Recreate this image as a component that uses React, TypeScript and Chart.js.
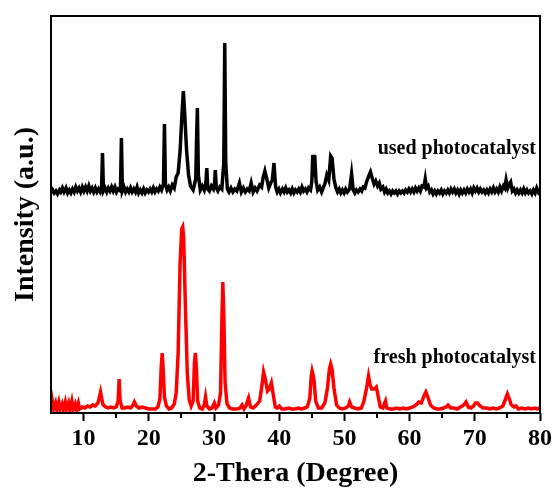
import React, { useEffect, useRef } from "react";
import { Chart, registerables } from "chart.js";

Chart.register(...registerables);

// 2θ (degree) vs. intensity (a.u.); "used" curve is stacked above "fresh"
const usedPoints: [number, number][] = [
  [5.0, 220], [5.25, 223], [5.5, 220], [5.75, 222], [6.0, 219], [6.3, 223], [6.5, 221], [6.75, 225], [7.0, 221],
  [7.3, 225], [7.55, 220], [7.8, 223], [8.05, 220], [8.3, 224], [8.55, 221], [8.8, 226], [9.05, 222],
  [9.3, 225], [9.55, 221], [9.8, 226], [10.05, 222], [10.3, 226], [10.55, 222], [10.8, 227], [11.05, 222],
  [11.3, 225], [11.55, 221], [11.8, 225], [12.05, 221], [12.3, 224], [12.55, 221], [12.75, 224], [12.9, 260],
  [13.05, 222], [13.3, 225], [13.55, 221], [13.8, 225], [14.05, 222], [14.3, 226], [14.55, 222], [14.8, 226],
  [15.05, 221], [15.3, 224], [15.65, 222], [15.8, 275], [15.95, 222], [16.2, 226], [16.45, 221], [16.7, 224],
  [16.95, 221], [17.2, 225], [17.45, 221], [17.7, 224], [17.95, 221], [18.2, 226], [18.45, 220], [18.7, 223],
  [18.95, 220], [19.2, 224], [19.45, 220], [19.7, 223], [19.95, 221], [20.2, 224], [20.45, 221], [20.7, 225],
  [20.95, 221], [21.2, 224], [21.45, 222], [21.7, 226], [21.95, 223], [22.25, 229], [22.4, 289], [22.55, 229],
  [22.8, 223], [23.05, 226], [23.3, 222], [23.6, 228], [23.9, 225], [24.2, 236], [24.5, 240],
  [24.8, 262], [25.1, 300], [25.3, 322], [25.5, 300], [25.8, 262], [26.1, 238], [26.4, 227], [26.8, 223],
  [27.2, 234], [27.35, 280], [27.45, 305], [27.6, 238], [27.9, 223], [28.2, 227], [28.5, 223], [28.75, 230],
  [28.9, 245], [29.05, 224], [29.3, 222], [29.6, 227], [29.9, 224], [30.1, 231], [30.2, 243], [30.35, 225],
  [30.6, 222], [30.9, 226], [31.2, 224], [31.5, 250], [31.65, 370], [31.8, 250], [32.05, 224], [32.3, 221],
  [32.6, 225], [32.9, 221], [33.2, 224], [33.5, 222], [33.9, 230], [34.2, 221], [34.5, 225], [34.8, 221],
  [35.1, 224], [35.4, 222], [35.7, 230], [36.0, 221], [36.3, 225], [36.6, 222], [37.0, 228], [37.3, 226],
  [37.55, 236], [37.8, 242], [38.1, 234], [38.4, 225], [38.7, 230], [38.95, 233], [39.2, 250], [39.45, 226],
  [39.7, 221], [39.95, 224], [40.2, 220], [40.5, 224], [40.75, 221], [41.0, 225], [41.25, 221], [41.5, 223],
  [41.75, 220], [42.0, 224], [42.25, 220], [42.5, 223], [42.75, 221], [43.0, 224], [43.25, 221], [43.5, 226],
  [43.75, 222], [44.0, 224], [44.25, 221], [44.5, 225], [44.8, 223], [45.0, 231], [45.15, 258], [45.3, 250],
  [45.45, 258], [45.65, 232], [45.9, 223], [46.2, 226], [46.5, 221], [46.8, 226], [47.0, 229], [47.3, 238],
  [47.6, 233], [47.9, 257], [48.1, 255], [48.4, 234], [48.7, 225], [48.95, 221], [49.2, 224], [49.45, 220],
  [49.7, 223], [49.95, 220], [50.2, 224], [50.45, 221], [50.8, 224], [51.1, 239], [51.35, 223], [51.6, 220],
  [51.85, 223], [52.1, 221], [52.4, 224], [52.65, 222], [52.9, 226], [53.15, 225], [53.4, 231], [53.8, 238],
  [54.0, 241], [54.3, 234], [54.55, 229], [54.8, 232], [55.1, 227], [55.35, 230], [55.6, 224], [55.9, 226],
  [56.15, 221], [56.4, 224], [56.65, 220], [56.9, 222], [57.15, 219], [57.4, 222], [57.65, 220], [57.9, 222],
  [58.15, 219], [58.4, 222], [58.65, 220], [58.9, 222], [59.15, 220], [59.4, 223], [59.65, 221], [59.9, 224],
  [60.15, 221], [60.4, 224], [60.65, 221], [60.9, 225], [61.15, 222], [61.4, 225], [61.65, 222], [61.9, 227],
  [62.2, 226], [62.4, 234], [62.6, 225], [62.85, 227], [63.1, 221], [63.35, 223], [63.6, 219], [63.85, 222],
  [64.1, 219], [64.35, 222], [64.6, 220], [64.85, 223], [65.1, 219], [65.35, 222], [65.6, 220], [65.85, 223],
  [66.1, 220], [66.35, 224], [66.6, 221], [66.85, 224], [67.1, 220], [67.35, 223], [67.6, 219], [67.85, 223],
  [68.1, 220], [68.35, 223], [68.6, 220], [68.85, 224], [69.1, 221], [69.35, 224], [69.6, 220], [69.85, 225],
  [70.1, 222], [70.35, 225], [70.6, 221], [70.85, 224], [71.1, 221], [71.35, 223], [71.6, 220], [71.85, 223],
  [72.1, 220], [72.35, 224], [72.6, 221], [72.85, 225], [73.1, 221], [73.35, 224], [73.6, 221], [73.85, 226],
  [74.1, 222], [74.4, 227], [74.6, 225], [74.8, 233], [75.05, 225], [75.3, 229], [75.5, 231], [75.75, 222],
  [76.0, 224], [76.25, 220], [76.5, 223], [76.75, 220], [77.0, 223], [77.25, 220], [77.5, 224], [77.75, 220],
  [78.0, 223], [78.25, 220], [78.5, 222], [78.75, 219], [79.0, 223], [79.25, 220], [79.5, 225], [79.75, 221],
  [80.0, 224],
];

const freshPoints: [number, number][] = [
  [5.0, 3], [5.2, 12], [5.4, 4], [5.7, 10], [5.9, 3], [6.2, 11], [6.4, 4], [6.7, 9], [6.9, 3], [7.2, 11],
  [7.4, 4], [7.7, 10], [7.9, 3], [8.2, 12], [8.4, 4], [8.7, 9], [8.9, 3], [9.2, 10], [9.4, 4], [9.8, 6],
  [10.2, 5], [10.6, 7], [11.0, 6], [11.4, 8], [11.8, 7], [12.2, 10], [12.4, 15], [12.6, 21], [12.8, 14],
  [13.0, 8], [13.4, 6], [13.8, 5], [14.2, 6], [14.6, 5], [15.0, 6], [15.3, 12], [15.45, 34], [15.6, 12],
  [15.9, 5], [16.3, 5], [16.8, 6], [17.2, 5], [17.6, 8], [17.8, 11], [18.1, 7], [18.5, 5], [19.0, 6],
  [19.5, 5], [20.0, 4], [20.5, 4], [21.0, 4], [21.4, 6], [21.7, 14], [21.9, 45], [22.05, 60], [22.2, 45],
  [22.4, 16], [22.7, 7], [23.1, 4], [23.5, 5], [23.9, 9], [24.2, 20], [24.5, 60], [24.8, 150], [25.05, 184],
  [25.2, 186], [25.35, 175], [25.6, 110], [25.9, 40], [26.2, 13], [26.5, 7], [26.8, 12], [27.0, 50],
  [27.15, 60], [27.3, 45], [27.5, 12], [27.8, 5], [28.2, 4], [28.5, 8], [28.7, 16], [28.9, 7], [29.3, 4],
  [29.7, 5], [30.05, 10], [30.3, 5], [30.7, 8], [31.0, 20], [31.2, 90], [31.35, 131], [31.5, 100],
  [31.7, 30], [32.0, 9], [32.4, 5], [32.8, 4], [33.2, 4], [33.6, 4], [34.0, 5], [34.3, 8], [34.6, 4],
  [34.9, 7], [35.3, 15], [35.6, 6], [36.0, 5], [36.5, 8], [37.0, 12], [37.3, 25], [37.6, 41], [37.9, 33],
  [38.2, 22], [38.5, 24], [38.8, 30], [39.1, 18], [39.4, 6], [39.7, 5], [40.0, 7], [40.4, 4], [40.9, 4],
  [41.4, 5], [41.9, 4], [42.4, 4], [42.9, 5], [43.4, 4], [43.9, 5], [44.3, 6], [44.7, 15], [44.9, 36],
  [45.05, 42], [45.2, 38], [45.35, 32], [45.6, 12], [46.0, 5], [46.5, 5], [47.0, 10], [47.4, 25], [47.7, 44],
  [47.9, 49], [48.1, 44], [48.4, 25], [48.8, 8], [49.2, 5], [49.7, 4], [50.2, 5], [50.6, 7], [50.8, 11],
  [51.1, 6], [51.6, 5], [52.1, 4], [52.6, 5], [53.0, 12], [53.4, 25], [53.7, 37], [53.95, 28], [54.2, 24],
  [54.6, 24], [54.9, 26], [55.2, 16], [55.5, 6], [55.9, 5], [56.1, 9], [56.3, 12], [56.5, 5], [57.0, 4],
  [57.5, 4], [58.0, 5], [58.5, 4], [59.0, 5], [59.5, 4], [60.0, 5], [60.5, 6], [61.0, 8], [61.4, 11],
  [61.8, 10], [62.2, 17], [62.5, 21], [62.8, 16], [63.2, 8], [63.7, 5], [64.2, 4], [64.7, 4], [65.2, 5],
  [65.6, 6], [65.9, 8], [66.3, 5], [66.8, 5], [67.3, 4], [67.8, 6], [68.3, 8], [68.65, 11], [69.0, 6],
  [69.4, 5], [69.8, 7], [70.1, 10], [70.4, 10], [70.8, 7], [71.3, 5], [71.8, 5], [72.3, 4], [72.8, 5],
  [73.3, 4], [73.8, 5], [74.3, 7], [74.6, 12], [75.0, 19], [75.3, 14], [75.6, 8], [76.0, 6], [76.3, 7],
  [76.7, 4], [77.2, 5], [77.7, 4], [78.2, 5], [78.7, 4], [79.2, 5], [79.6, 4], [80.0, 5],
];

const majorTicks = [10, 20, 30, 40, 50, 60, 70, 80];
const minorTicks = [15, 25, 35, 45, 55, 65, 75];
const seriesLabels = ["used photocatalyst", "fresh photocatalyst"];
const labelLevels = [259, 50];
const xRange = [5, 80];
const yRange = [0, 397];

const SERIF = "'Times New Roman', 'Liberation Serif', serif";

export default function App() {
  const ref = useRef<HTMLCanvasElement>(null);

  useEffect(() => {
    document.body.style.margin = "0";
    const canvas = ref.current;
    if (!canvas) return;

    const framePlugin = {
      id: "frameAndLabels",
      afterDatasetsDraw(chart: any) {
        const { ctx, chartArea } = chart;
        const xs = chart.scales.x;
        const ys = chart.scales.y;
        ctx.save();
        ctx.strokeStyle = "#000";
        ctx.lineWidth = 2;
        ctx.strokeRect(chartArea.left, chartArea.top, chartArea.right - chartArea.left, chartArea.bottom - chartArea.top);
        // minor ticks
        ctx.beginPath();
        minorTicks.forEach((v) => {
          const px = Math.round(xs.getPixelForValue(v));
          ctx.moveTo(px, chartArea.bottom);
          ctx.lineTo(px, chartArea.bottom + 5);
        });
        ctx.stroke();
        // series labels
        ctx.fillStyle = "#000";
        ctx.font = `bold 20px ${SERIF}`;
        ctx.textAlign = "right";
        ctx.textBaseline = "alphabetic";
        seriesLabels.forEach((t, i) => {
          ctx.fillText(t, chartArea.right - 4, ys.getPixelForValue(labelLevels[i]));
        });
        ctx.restore();
      },
    };

    const chart = new Chart(canvas, {
      type: "line",
      data: {
        datasets: [
          {
            label: "used photocatalyst",
            data: usedPoints.map(([x, y]) => ({ x, y })),
            borderColor: "#000000",
            borderWidth: 3.5,
            pointRadius: 0,
            tension: 0,
          },
          {
            label: "fresh photocatalyst",
            data: freshPoints.map(([x, y]) => ({ x, y })),
            borderColor: "#ff0000",
            borderWidth: 3.5,
            pointRadius: 0,
            tension: 0,
          },
        ],
      },
      options: {
        responsive: false,
        animation: false,
        layout: { padding: { left: 0, right: 13, top: 16, bottom: 0 } },
        plugins: { legend: { display: false }, tooltip: { enabled: false } },
        scales: {
          x: {
            type: "linear",
            min: xRange[0],
            max: xRange[1],
            afterBuildTicks: (s: any) => {
              s.ticks = majorTicks.map((v) => ({ value: v }));
            },
            afterFit: (s: any) => {
              s.height = 78;
            },
            border: { display: false },
            grid: {
              display: true,
              drawOnChartArea: false,
              drawTicks: true,
              tickLength: 8,
              tickWidth: 2,
              tickColor: "#000",
              color: "#000",
            },
            ticks: {
              color: "#000",
              font: { family: SERIF, size: 24, weight: "bold" },
              padding: 3,
              maxRotation: 0,
              autoSkip: false,
            },
            title: {
              display: true,
              text: "2-Thera (Degree)",
              color: "#000",
              font: { family: SERIF, size: 28, weight: "bold" },
              padding: { top: 0, bottom: 0 },
            },
          },
          y: {
            min: yRange[0],
            max: yRange[1],
            afterFit: (s: any) => {
              s.width = 51;
            },
            border: { display: false },
            grid: { display: false },
            ticks: { display: false },
            title: {
              display: true,
              text: "Intensity (a.u.)",
              color: "#000",
              font: { family: SERIF, size: 28, weight: "bold" },
              padding: { top: 9, bottom: 0 },
            },
          },
        },
      },
      plugins: [framePlugin],
    });

    return () => chart.destroy();
  }, []);

  return (
    <div style={{ width: 555, height: 491 }}>
      <canvas ref={ref} width={555} height={491} style={{ display: "block" }} />
    </div>
  );
}
